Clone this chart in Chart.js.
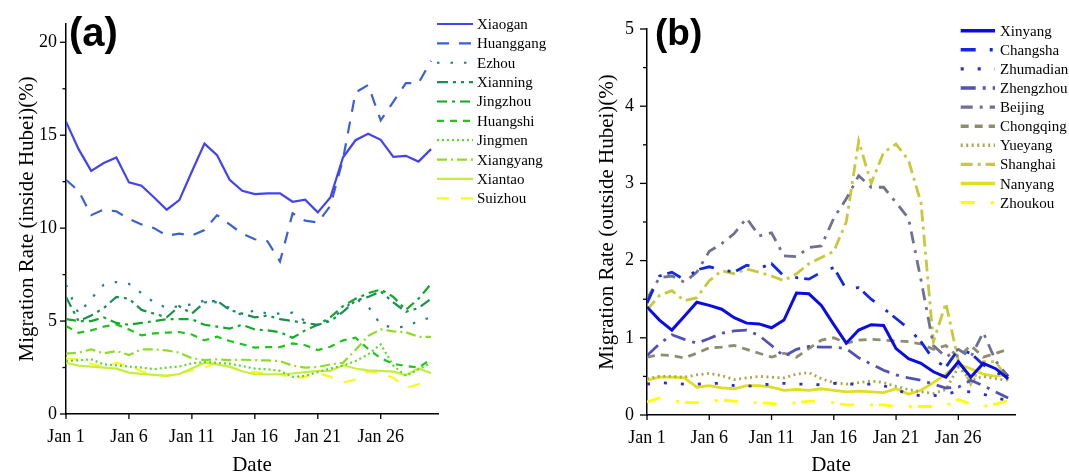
<!DOCTYPE html>
<html>
<head>
<meta charset="utf-8">
<script src="https://cdn.jsdelivr.net/npm/chart.js@4.4.1/dist/chart.umd.min.js"></script>
<style>
  html, body { margin: 0; padding: 0; background: #fff; }
  #wrap { position: relative; width: 1069px; height: 476px; }
  .panel { position: absolute; top: 0; height: 476px; }
  #pa { left: 0; width: 570px; }
  #pb { left: 535px; width: 534px; }
</style>
</head>
<body>
<div id="wrap">
  <div class="panel" id="pa"><canvas id="ca"></canvas></div>
  <div class="panel" id="pb"><canvas id="cb"></canvas></div>
</div>
<script>
// Day of January for every sample
const dayNumbers = [1,2,3,4,5,6,7,8,9,10,11,12,13,14,15,16,17,18,19,20,21,22,23,24,25,26,27,28,29,30];
const tickDays = [1, 6, 11, 16, 21, 26];
const tickLabels = ['Jan 1', 'Jan 6', 'Jan 11', 'Jan 16', 'Jan 21', 'Jan 26'];

// (a) destinations inside Hubei, migration rate (%)
const xiaogan   = [15.73,14.25,13.08,13.5,13.8,12.46,12.28,11.65,10.99,11.51,13.05,14.55,13.92,12.6,12.01,11.83,11.87,11.87,11.42,11.53,10.85,11.65,13.8,14.73,15.08,14.75,13.83,13.89,13.58,14.25];
const huanggang = [12.6,12.0,10.7,11.0,10.9,10.5,10.2,10.0,9.6,9.7,9.6,9.9,10.7,10.2,9.7,9.4,9.3,8.2,10.8,10.4,10.3,11.2,13.7,17.3,17.7,15.8,16.8,17.8,17.8,19.0];
const ezhou      = [6.95,5.4,6.2,6.96,7.1,7.0,6.5,6.0,5.7,5.8,5.9,6.1,6.0,5.7,5.3,5.6,5.4,5.4,5.45,5.0,4.7,5.1,5.6,6.2,5.8,4.8,4.65,4.7,5.0,5.2];
const xianning   = [6.3,5.0,5.3,5.7,6.3,6.2,5.6,5.4,5.2,5.8,5.4,6.0,6.1,5.6,5.4,5.2,5.3,5.1,5.0,4.9,4.8,5.0,5.5,6.1,6.3,6.6,6.0,5.5,5.7,6.2];
const jingzhou   = [5.1,5.0,5.0,5.2,4.9,4.8,4.9,5.0,5.1,5.1,5.1,4.8,4.7,4.6,4.8,4.55,4.5,4.4,4.1,4.5,4.8,5.2,5.8,6.2,6.5,6.7,6.3,5.6,6.2,7.0];
const huangshi   = [4.73,4.37,4.5,4.7,4.82,4.55,4.23,4.34,4.38,4.41,4.28,3.96,4.16,3.93,3.75,3.57,3.6,3.6,3.8,3.7,3.44,3.62,3.96,4.1,3.5,3.0,2.7,2.58,2.5,2.94];
const jingmen    = [2.85,2.89,2.94,2.67,2.62,2.55,2.5,2.41,2.5,2.55,2.73,2.8,2.75,2.71,2.58,2.44,2.41,2.32,2.0,2.05,2.25,2.45,2.6,2.85,3.2,3.75,2.6,2.05,2.4,2.75];
const xiangyang  = [3.25,3.3,3.48,3.26,3.39,3.17,3.48,3.48,3.42,3.3,3.0,2.9,2.94,2.9,2.92,2.9,2.88,2.85,2.6,2.5,2.53,2.67,2.75,3.45,4.2,4.55,4.45,4.4,4.15,4.15];
const xiantao    = [2.76,2.6,2.55,2.5,2.44,2.23,2.16,2.1,2.05,2.15,2.45,2.76,2.67,2.55,2.3,2.14,2.14,2.14,2.18,2.25,2.32,2.32,2.62,2.45,2.35,2.32,2.28,2.1,2.45,2.2];
const suizhou    = [3.0,2.95,2.7,2.55,2.75,2.6,2.3,2.1,2.05,2.2,2.35,2.5,2.75,2.55,2.3,2.25,2.2,2.15,1.9,2.0,2.2,2.0,1.7,1.85,2.3,2.2,1.95,1.4,1.6,1.85];

// (b) destinations outside Hubei, migration rate (%)
const xinyang   = [1.40,1.23,1.10,1.28,1.46,1.42,1.37,1.26,1.19,1.18,1.13,1.23,1.58,1.57,1.42,1.17,0.93,1.10,1.17,1.16,0.86,0.73,0.67,0.56,0.49,0.69,0.49,0.67,0.60,0.47];
const changsha  = [1.45,1.80,1.85,1.75,1.88,1.92,1.88,1.85,1.94,1.90,1.96,1.80,1.78,1.76,1.85,1.91,1.63,1.65,1.50,1.38,1.25,1.12,0.95,0.72,0.62,0.85,0.80,0.65,0.55,0.50];
const zhumadian = [0.40,0.42,0.41,0.40,0.40,0.41,0.41,0.38,0.37,0.39,0.40,0.41,0.40,0.40,0.39,0.41,0.40,0.40,0.40,0.38,0.33,0.27,0.25,0.25,0.27,0.31,0.30,0.27,0.22,0.19];
const zhengzhou = [0.77,0.92,1.04,0.98,0.93,0.99,1.06,1.09,1.10,1.03,0.90,0.76,0.85,0.89,0.88,0.88,0.86,0.74,0.66,0.58,0.52,0.48,0.45,0.40,0.35,0.36,0.45,0.38,0.30,0.22];
const beijing   = [1.50,1.78,1.80,1.72,1.85,2.12,2.22,2.35,2.55,2.32,2.36,2.06,2.05,2.17,2.19,2.55,2.80,3.10,2.95,2.95,2.75,2.55,1.75,0.90,0.75,0.85,0.75,1.07,0.70,0.50];
const chongqing = [0.75,0.78,0.77,0.74,0.80,0.87,0.88,0.90,0.85,0.80,0.75,0.80,0.75,0.86,0.97,1.00,0.93,0.97,0.98,0.97,0.96,0.95,0.92,0.85,0.90,0.75,0.90,0.75,0.80,0.85];
const yueyang   = [0.47,0.50,0.50,0.49,0.52,0.54,0.51,0.46,0.48,0.50,0.49,0.48,0.53,0.55,0.47,0.42,0.40,0.42,0.44,0.42,0.37,0.33,0.30,0.28,0.33,0.62,0.45,0.50,0.47,0.45];
const shanghai  = [1.36,1.55,1.61,1.48,1.52,1.74,1.87,1.83,1.89,1.85,1.80,1.74,1.83,1.96,2.04,2.12,2.50,3.55,3.00,3.40,3.51,3.30,2.75,0.95,1.45,0.70,0.40,0.69,0.69,0.45];
const nanyang   = [0.45,0.49,0.49,0.48,0.36,0.38,0.35,0.34,0.38,0.38,0.36,0.32,0.33,0.32,0.34,0.32,0.30,0.31,0.30,0.29,0.34,0.27,0.32,0.42,0.53,0.66,0.60,0.53,0.50,0.53];
const zhoukou   = [0.17,0.22,0.19,0.16,0.16,0.18,0.19,0.18,0.16,0.16,0.15,0.13,0.16,0.18,0.18,0.16,0.13,0.13,0.13,0.13,0.11,0.11,0.11,0.11,0.12,0.20,0.14,0.11,0.14,0.19];

// y-axis tick values
const aMajorTicks = [0, 5, 10, 15, 20];
const aMinorTicks = [2.5, 7.5, 12.5, 17.5];
const bMajorTicks = [0, 1, 2, 3, 4, 5];
const bMinorTicks = [0.5, 1.5, 2.5, 3.5, 4.5];

const SERIF = '"Liberation Serif", "Times New Roman", serif';
const SANS = '"Liberation Sans", Arial, sans-serif';

function line(label, data, color, dash, width) {
  return {
    label, data,
    borderColor: color, backgroundColor: color,
    borderDash: dash, borderWidth: width,
    pointRadius: 0, tension: 0, fill: false, borderCapStyle: 'butt'
  };
}

// Axis ticks, panel letter and a line-sample legend drawn on the canvas
const panelDecor = {
  id: 'panelDecor',
  afterDraw(chart, args, o) {
    const { ctx, chartArea } = chart;
    const xs = chart.scales.x, ys = chart.scales.y;
    ctx.save();
    ctx.strokeStyle = '#000';
    ctx.lineWidth = 1.3;
    ctx.setLineDash([]);
    const hline = (x1, y, x2) => { ctx.beginPath(); ctx.moveTo(x1, y); ctx.lineTo(x2, y); ctx.stroke(); };
    o.yMajor.forEach(v => { const py = ys.getPixelForValue(v); hline(chartArea.left - o.majorLen, py, chartArea.left); });
    o.yMinor.forEach(v => { const py = ys.getPixelForValue(v); hline(chartArea.left - o.minorLen, py, chartArea.left); });
    tickDays.forEach(d => {
      const px = xs.getPixelForValue(d);
      ctx.beginPath(); ctx.moveTo(px, chartArea.bottom); ctx.lineTo(px, chartArea.bottom + o.xTickLen); ctx.stroke();
    });

    // panel letter
    ctx.fillStyle = '#000';
    ctx.font = 'bold ' + o.letterSize + 'px ' + SANS;
    ctx.textAlign = 'left';
    ctx.textBaseline = 'alphabetic';
    ctx.fillText(o.letter, o.letterX, o.letterY);

    // legend
    ctx.font = '15px ' + SERIF;
    chart.data.datasets.forEach((ds, i) => {
      const y = o.rowY0 + i * o.rowDy;
      ctx.save();
      ctx.strokeStyle = ds.borderColor;
      ctx.lineWidth = o.legendWidth || ds.borderWidth;
      ctx.lineCap = 'butt';
      ctx.setLineDash(ds.borderDash || []);
      ctx.beginPath(); ctx.moveTo(o.sampleX1, y); ctx.lineTo(o.sampleX2, y); ctx.stroke();
      ctx.restore();
      ctx.fillStyle = '#000';
      ctx.fillText(ds.label, o.textX, y + 5);
    });
    ctx.restore();
  }
};

function makeOptions(cfg) {
  return {
    responsive: true,
    maintainAspectRatio: false,
    animation: false,
    devicePixelRatio: 1,
    layout: { padding: { left: 0, right: cfg.padRight, top: cfg.padTop, bottom: 0 } },
    plugins: {
      legend: { display: false },
      tooltip: { enabled: false },
      panelDecor: cfg.decor
    },
    scales: {
      x: {
        type: 'linear',
        min: 1, max: 30.55,
        grid: { display: false, drawTicks: false },
        border: { display: true, color: '#000', width: 1.5 },
        afterBuildTicks: s => { s.ticks = tickDays.map(v => ({ value: v })); },
        afterFit: s => { s.height = cfg.xHeight; },
        ticks: {
          autoSkip: false, maxRotation: 0, padding: 12, color: '#000',
          font: { family: SERIF, size: 18 },
          callback: v => tickLabels[tickDays.indexOf(v)]
        },
        title: {
          display: true, text: 'Date', color: '#000',
          font: { family: SERIF, size: 21, lineHeight: 1 },
          padding: { top: 0, bottom: 0 }
        }
      },
      y: {
        min: 0, max: cfg.yMax,
        grid: { display: false, drawTicks: false },
        border: { display: true, color: '#000', width: 1.5 },
        afterBuildTicks: s => { s.ticks = cfg.decor.yMajor.map(v => ({ value: v })); },
        afterFit: s => { s.width = cfg.yWidth; },
        ticks: {
          padding: cfg.yPad, color: '#000',
          font: { family: SERIF, size: 18 },
          callback: v => String(v)
        },
        title: {
          display: true, text: cfg.yTitle, color: '#000',
          font: { family: SERIF, size: 21, lineHeight: 1 },
          padding: { top: cfg.yTitlePad, bottom: 0 }
        }
      }
    }
  };
}

new Chart(document.getElementById('ca'), {
  type: 'line',
  data: {
    labels: dayNumbers,
    datasets: [
      line('Xiaogan',   xiaogan,   '#4343f2', [], 2.2),
      line('Huanggang', huanggang, '#3a62cf', [12, 10], 2.2),
      line('Ezhou',     ezhou,     '#257c91', [2.5, 11], 2.2),
      line('Xianning',  xianning,  '#1a8f52', [11, 5, 3, 5, 3, 5], 2.2),
      line('Jingzhou',  jingzhou,  '#12a82a', [10, 5, 3, 5], 2.2),
      line('Huangshi',  huangshi,  '#1fc41f', [7, 6], 2.2),
      line('Jingmen',   jingmen,   '#5dd82c', [2, 3], 2.2),
      line('Xiangyang', xiangyang, '#8fdc28', [10, 4, 2, 4], 2.2),
      line('Xiantao',   xiantao,   '#c6ee3c', [], 2.2),
      line('Suizhou',   suizhou,   '#f9f920', [12, 12], 2.2)
    ]
  },
  plugins: [panelDecor],
  options: makeOptions({
    padRight: 132, padTop: 23.7, xHeight: 62, yWidth: 66, yMax: 21, yPad: 9,
    yTitle: 'Migration Rate (inside Hubei)(%)', yTitlePad: 17,
    decor: {
      yMajor: aMajorTicks, yMinor: aMinorTicks, majorLen: 6, minorLen: 3.5, xTickLen: 5,
      letter: '(a)', letterSize: 40, letterX: 69, letterY: 46,
      sampleX1: 437, sampleX2: 473, textX: 477, rowY0: 24, rowDy: 19.37
    }
  })
});

new Chart(document.getElementById('cb'), {
  type: 'line',
  data: {
    labels: dayNumbers,
    datasets: [
      line('Xinyang',   xinyang,   '#0b0be6', [], 3),
      line('Changsha',  changsha,  '#1428e0', [15, 14, 3, 6], 2.8),
      line('Zhumadian', zhumadian, '#2b2bd0', [3, 14], 2.8),
      line('Zhengzhou', zhengzhou, '#5252b4', [15, 7, 3, 7], 2.8),
      line('Beijing',   beijing,   '#70708f', [12, 7, 3, 7], 2.8),
      line('Chongqing', chongqing, '#8d8d70', [8, 6], 2.8),
      line('Yueyang',   yueyang,   '#a8a852', [2, 3.5], 2.8),
      line('Shanghai',  shanghai,  '#c8c83c', [12, 5, 3, 5], 2.8),
      line('Nanyang',   nanyang,   '#dede22', [], 2.8),
      line('Zhoukou',   zhoukou,   '#ffff00', [14, 16, 3, 6], 2.8)
    ]
  },
  plugins: [panelDecor],
  options: makeOptions({
    padRight: 54, padTop: 29, xHeight: 61, yWidth: 112, yMax: 5, yPad: 13,
    yTitle: 'Migration Rate (outside Hubei)(%)', yTitlePad: 62,
    decor: {
      yMajor: bMajorTicks, yMinor: bMinorTicks, majorLen: 7, minorLen: 4, xTickLen: 5,
      letter: '(b)', letterSize: 37, letterX: 120, letterY: 45,
      sampleX1: 425.7, sampleX2: 460, textX: 465, rowY0: 30.7, rowDy: 19.1, legendWidth: 3.4
    }
  })
});
</script>
</body>
</html>
